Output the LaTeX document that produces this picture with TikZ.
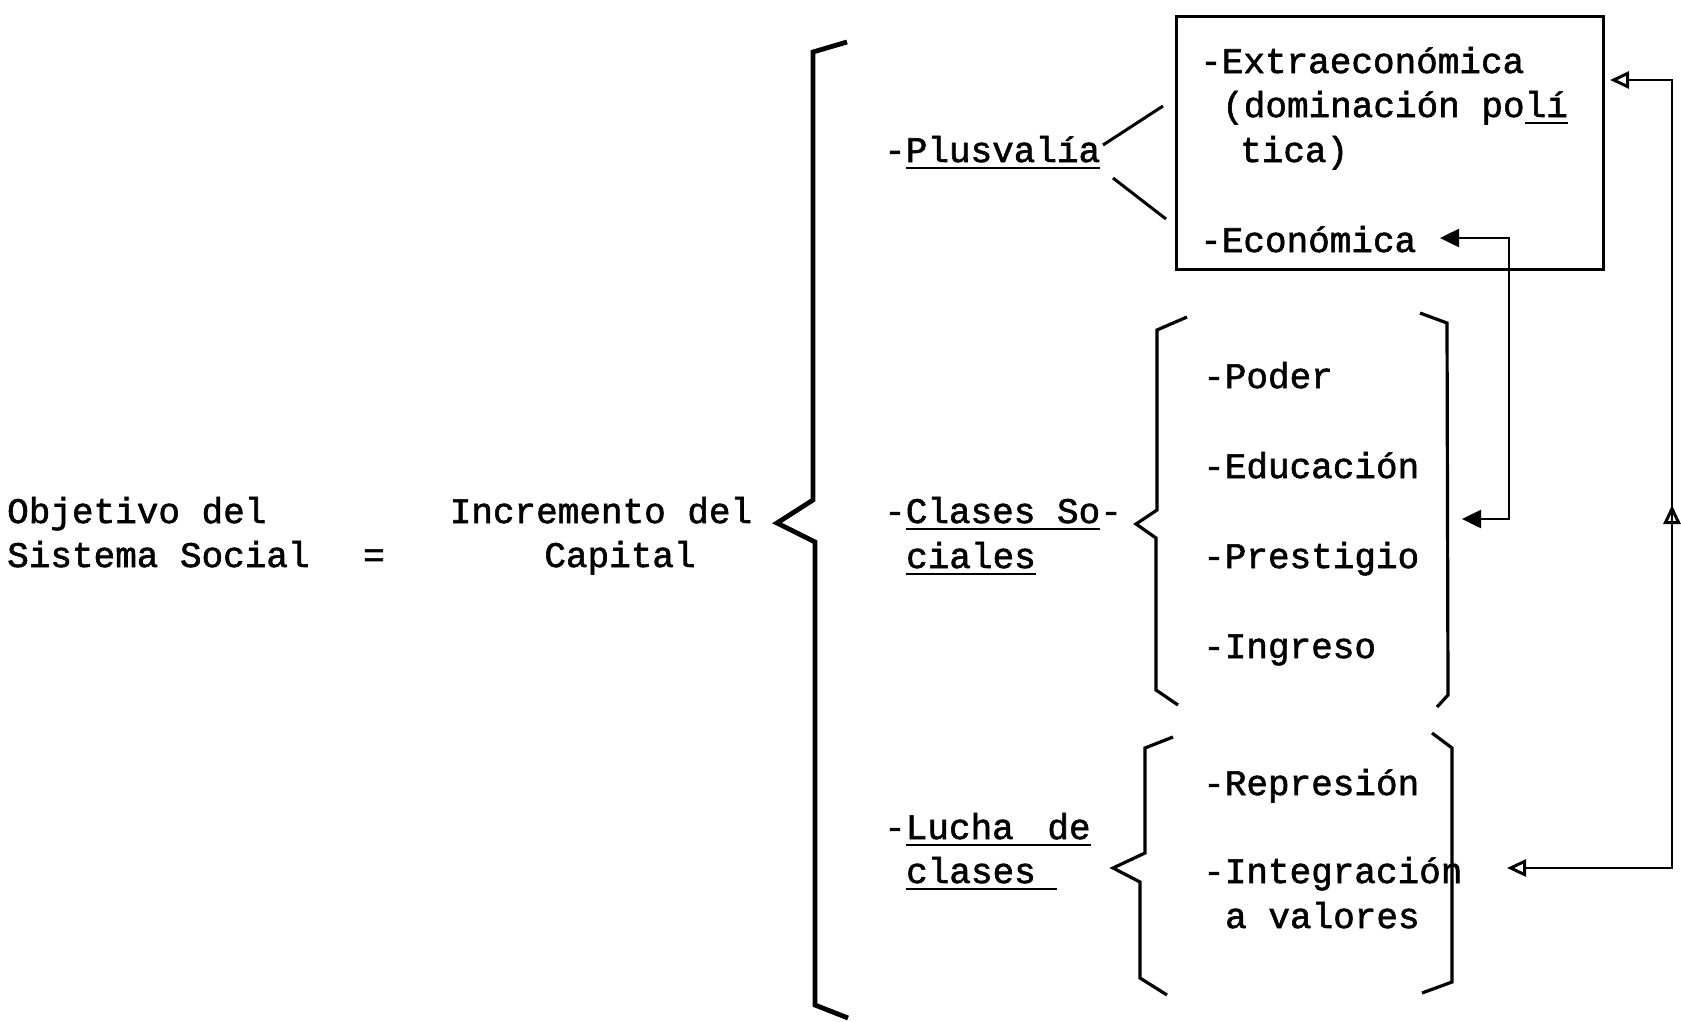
\documentclass[tikz,border=0pt]{standalone}
\usepackage{fontspec}
\newfontfamily\tw[FakeBold=1.6]{Liberation Mono}
\usetikzlibrary{arrows.meta,decorations.markings}
\newsavebox\ulbox
\newcommand{\ulx}[1]{\sbox\ulbox{#1}\rlap{\rule[-7pt]{\wd\ulbox}{2.5pt}}\usebox\ulbox}
\tikzset{
  ohead/.tip={Triangle[open,length=19pt,width=17pt,line width=3pt]},
  fhead/.tip={Triangle[length=19pt,width=18pt]},
  txt/.style={inner sep=0pt, anchor=base west, font=\tw\fontsize{36}{44}\selectfont},
  ctxt/.style={txt, anchor=base},
  brk/.style={line width=3.2pt, line join=miter},
  bigbrk/.style={line width=4.8pt, line join=miter},
  conn/.style={line width=2.6pt},
  branch/.style={line width=3pt},
  framebox/.style={draw, line width=3pt, inner sep=0pt, anchor=north west}
}
\begin{document}
\begin{tikzpicture}[x=1pt,y=-1pt]
\fill[white] (0,0) rectangle (1681,1021);
\useasboundingbox (0,0) rectangle (1681,1021);

% left texts
\node[txt] (obj1) at (7,523) {Objetivo del};
\node[txt] (obj2) at (7,567) {Sistema Social};
\node[ctxt] (eq) at (374,567) {=};
\node[ctxt] (inc1) at (601,523) {Incremento del};
\node[ctxt] (inc2) at (620,567) {Capital};

% big brace
\draw[bigbrk] (847,42) -- (813,52) -- (813,500) -- (777,523) -- (815,542) -- (815,1005) -- (848,1018);

% middle column
\node[txt] (plus) at (884,162) {-\ulx{Plusvalía}};
\node[txt] (cla1) at (884,523) {-\ulx{Clases So}-};
\node[txt] (cla2) at (906,568) {\ulx{ciales}};
\node[txt] (luc1) at (884,839) {-\ulx{Lucha\hspace{12pt} de}};
\node[txt] (luc2) at (906,883) {\ulx{clases }};

% box
\node[framebox, minimum width=427pt, minimum height=253pt] (box) at (1175,15) {};
\node[txt] (ext1) at (1200,73) {-Extraeconómica};
\node[txt] (ext2) at (1222,117) {(dominación po\ulx{lí}};
\node[txt] (ext3) at (1240,162) {tica)};
\node[txt] (eco) at (1200,252) {-Económica};

% Plusvalia branches
\coordinate (pu) at (1103,145);
\coordinate (pue) at (1163,106);
\coordinate (pl) at (1113,178);
\coordinate (ple) at (1166,219);
\draw[branch] (pu) -- (pue);
\draw[branch] (pl) -- (ple);

% clases sociales items
\node[txt] (poder) at (1203,388) {-Poder};
\node[txt] (edu) at (1203,478) {-Educación};
\node[txt] (pres) at (1203,568) {-Prestigio};
\node[txt] (ing) at (1203,658) {-Ingreso};
\draw[brk] (1187,317) -- (1157,330) -- (1157,510) -- (1136,524) -- (1156,538) -- (1156,690) -- (1178,705);
\draw[brk] (1420,313) -- (1447,323) -- (1448,695) -- (1437,707);

% lucha items
\node[txt] (rep) at (1203,795) {-Represión};
\node[txt] (integ) at (1203,883) {-Integración};
\node[txt] (aval) at (1225,928) {a valores};
\draw[brk] (1173,737) -- (1145,748) -- (1145,853) -- (1113,868) -- (1140,882) -- (1140,978) -- (1167,995);
\draw[brk] (1432,733) -- (1452,748) -- (1452,982) -- (1422,993);

% connectors
\coordinate (ecoTip) at (1440,238);
\coordinate (claTip) at (1462,519);
\draw[conn, fhead-fhead] (ecoTip) -- ++(69,0) |- (claTip);

\coordinate (boxTip) at (1610,80);
\coordinate (lucTip) at (1507,868);
\draw[conn, ohead-ohead, postaction={decorate},
  decoration={markings, mark=at position 528pt with {\arrow{ohead}}}]
  (lucTip) -- ++(165,0) |- (boxTip);
\end{tikzpicture}
\end{document}
